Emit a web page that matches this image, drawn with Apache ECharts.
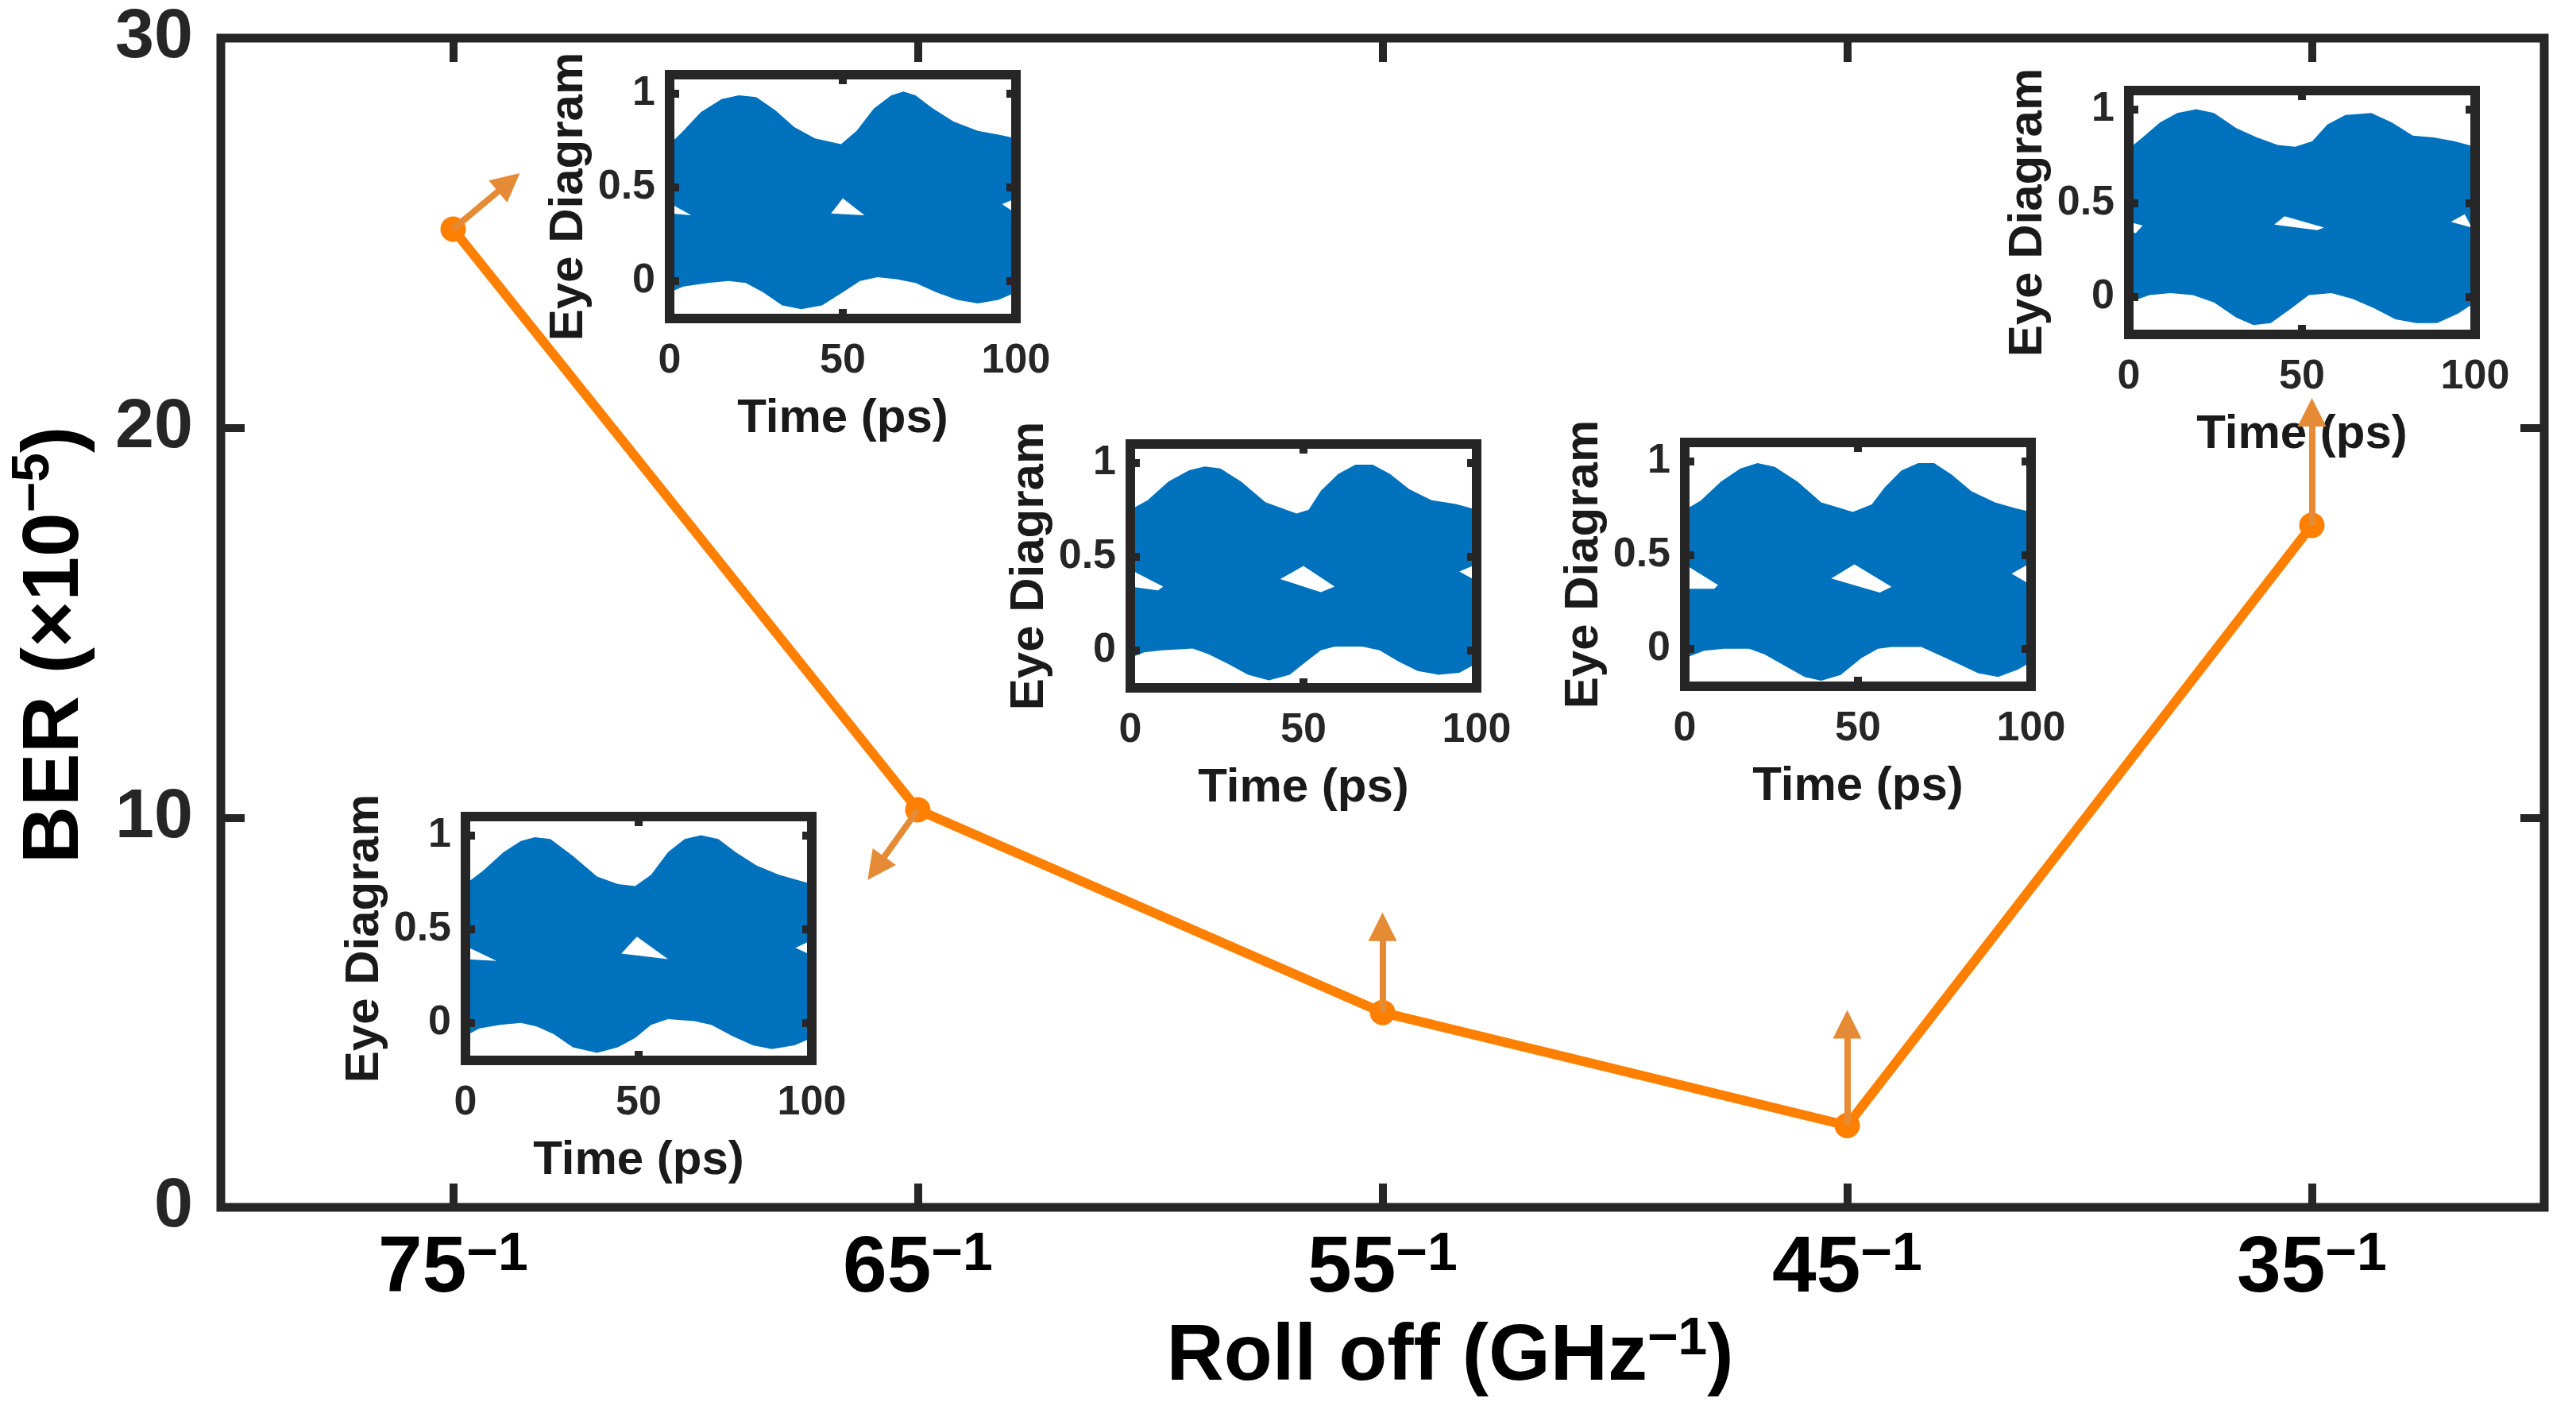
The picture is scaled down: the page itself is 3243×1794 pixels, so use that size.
<!DOCTYPE html>
<html>
<head>
<meta charset="utf-8">
<script src="https://cdn.jsdelivr.net/npm/echarts@6/dist/echarts.min.js"></script>
<style>
html, body { margin: 0; padding: 0; background: #fff; }
#chart { width: 3243px; height: 1794px; }
</style>
</head>
<body>
<div id="chart"></div>
<script>
// main curve: BER vs roll off
var rollOff = ['75', '65', '55', '45', '35'];
var ber = [25.1, 10.2, 5.0, 2.1, 17.5];

// arrow heads, [category index, BER], one per point
var arrowTips = [[0.12, 26.3], [0.91, 8.7], [2, 7.2], [3, 4.7], [4, 20.4]];

// eye diagram tick labels
var eyeTicksX = [0, 50, 100];
var eyeTicksY = [0, 0.5, 1];

// eye diagrams, [time (ps), amplitude]: upper / lower envelope and open eye holes
var eye75Upper = [[0,0.73],[3.4,0.79],[9,0.9],[15,0.97],[20,0.99],[25,0.98],[30.5,0.91],[36,0.82],[42,0.76],[49.5,0.73],[54,0.8],[59,0.92],[64,0.99],[67.5,1.01],[71,0.99],[76,0.92],[82,0.85],[89,0.8],[95,0.78],[100,0.76]];
var eye75Lower = [[0,-0.06],[4,-0.03],[11,-0.01],[17,0],[22,-0.01],[27,-0.06],[32.5,-0.13],[38,-0.15],[44,-0.13],[50,-0.06],[55,0],[60,0.02],[65.5,0.01],[71,-0.01],[77,-0.06],[83,-0.1],[89,-0.12],[95,-0.1],[100,-0.06]];
var eye75Holes = [[[46.6,0.36],[50,0.44],[56.3,0.35]], [[0.5,0.41],[6.3,0.35],[0.5,0.36]], [[96,0.41],[100,0.44],[100,0.36]]];

var eye65Upper = [[0,0.74],[5,0.81],[11,0.91],[16,0.97],[20,0.99],[24.5,0.98],[31,0.89],[38,0.78],[44,0.74],[49,0.73],[53.6,0.79],[58.5,0.91],[63.3,0.98],[68,1.0],[73,0.98],[78,0.91],[84,0.84],[90.5,0.79],[100,0.74]];
var eye65Lower = [[0,-0.07],[4,-0.03],[10,-0.01],[16,0],[20.7,-0.02],[25.5,-0.06],[31,-0.13],[38,-0.16],[44,-0.13],[49,-0.08],[53.6,-0.01],[58.5,0.02],[66,0.01],[71,-0.01],[77,-0.07],[83,-0.12],[88.5,-0.14],[95,-0.12],[100,-0.08]];
var eye65Holes = [[[45,0.37],[49.5,0.46],[58.5,0.34]], [[0,0.41],[9,0.33],[0,0.34]], [[95.3,0.4],[100,0.44],[100,0.36]]];

var eye55Upper = [[0,0.75],[5,0.8],[11,0.9],[17,0.96],[21.5,0.98],[26,0.97],[32,0.9],[39,0.79],[45,0.75],[48,0.73],[51.5,0.75],[55,0.85],[60,0.94],[65,0.99],[70,0.99],[75,0.94],[80.5,0.86],[87,0.8],[94,0.78],[100,0.75]];
var eye55Lower = [[0,-0.04],[4,-0.01],[9,0],[18,0.01],[22.5,-0.02],[28,-0.07],[34,-0.13],[40,-0.16],[46,-0.13],[51.5,-0.05],[55,0],[59,0.02],[67,0.02],[72,0],[77.5,-0.06],[83,-0.11],[89,-0.13],[95,-0.12],[100,-0.07]];
var eye55Holes = [[[43.3,0.38],[50,0.45],[59,0.34],[55,0.31]], [[0,0.43],[9.5,0.34],[8,0.32],[0,0.34]], [[95,0.42],[100,0.46],[100,0.37]]];

var eye45Upper = [[0,0.74],[4.6,0.79],[10.4,0.89],[16,0.96],[21,0.99],[26,0.97],[32.6,0.89],[39.4,0.78],[45,0.75],[48.5,0.73],[54,0.77],[57.7,0.86],[62.5,0.95],[67.4,0.99],[72,0.99],[77,0.93],[82.8,0.84],[89.6,0.78],[95.4,0.75],[100,0.73]];
var eye45Lower = [[0,-0.05],[5.6,-0.01],[11.4,0],[18.6,0],[23,-0.03],[28.8,-0.09],[34.6,-0.15],[39.4,-0.17],[45,-0.14],[51,-0.05],[55.8,0],[59.7,0.01],[68.3,0.01],[73,-0.03],[79,-0.08],[84.7,-0.13],[90.5,-0.15],[96.3,-0.11],[100,-0.07]];
var eye45Holes = [[[42.3,0.375],[49,0.45],[59.7,0.33],[56.3,0.3]], [[0,0.45],[9.6,0.34],[8.5,0.32],[0,0.32]], [[94.4,0.4],[100,0.46],[100,0.34]]];

var eye35Upper = [[0,0.79],[4,0.85],[9,0.93],[14,0.98],[19.5,1.0],[24.6,0.98],[31,0.9],[37,0.85],[43,0.81],[48,0.8],[53,0.83],[57.4,0.92],[62.6,0.97],[70,0.98],[76,0.93],[82,0.86],[88,0.85],[94,0.83],[100,0.8]];
var eye35Lower = [[0,-0.03],[6,0.01],[12,0.02],[18.5,0.01],[24.6,-0.03],[31,-0.11],[36,-0.15],[41,-0.14],[47,-0.06],[52,0.01],[58.5,0.02],[64.6,-0.01],[70.8,-0.06],[77,-0.12],[83,-0.14],[89,-0.14],[95,-0.09],[100,-0.03]];
var eye35Holes = [[[42,0.385],[45,0.43],[56.4,0.37],[54.4,0.356]], [[0,0.4],[4,0.38],[2,0.34],[0,0.35]], [[93,0.4],[97,0.44],[99,0.37]]];

var eyes = [
  { upper: eye75Upper, lower: eye75Lower, holes: eye75Holes },
  { upper: eye65Upper, lower: eye65Lower, holes: eye65Holes },
  { upper: eye55Upper, lower: eye55Lower, holes: eye55Holes },
  { upper: eye45Upper, lower: eye45Lower, holes: eye45Holes },
  { upper: eye35Upper, lower: eye35Lower, holes: eye35Holes }
];

// inset boxes (pixels), same order as eyes
var insetPos = [[843, 94], [586, 1028], [1423, 559], [2121, 557], [2680, 114]];
var insetW = 436, insetH = 307;

var FONT = '"Liberation Sans", Arial, Helvetica, sans-serif';
var DARK = '#262626';
var ORANGE = '#FF8000';
var ARROW = '#E58A35';
var BLUE = '#0072BD';

var chart = echarts.init(document.getElementById('chart'));

var grids = [{
  left: 278, right: 40, top: 48, bottom: 274,
  show: true, borderColor: DARK, borderWidth: 11, backgroundColor: 'rgba(0,0,0,0)'
}];

var mainTick = { show: true, inside: true, length: 30, lineStyle: { width: 10, color: DARK } };

var xAxes = [{
  type: 'category', gridIndex: 0, data: rollOff, position: 'bottom', boundaryGap: true,
  axisLine: { show: false, onZero: false },
  axisTick: Object.assign({ alignWithLabel: true }, mainTick),
  axisLabel: {
    margin: 26,
    formatter: function (v) { return '{n|' + v + '}{s|\u22121}'; },
    rich: {
      n: { fontFamily: FONT, fontWeight: 'bold', fontSize: 100, lineHeight: 104, color: '#000', verticalAlign: 'middle' },
      s: { fontFamily: FONT, fontWeight: 'bold', fontSize: 68, lineHeight: 68, color: '#000', verticalAlign: 'top' }
    }
  },
  splitLine: { show: false },
  name: '{n|Roll off (GHz}{s|\u22121}{n|)}',
  nameLocation: 'middle',
  nameGap: 134,
  nameTextStyle: {
    padding: [0, 0, 0, 170],
    rich: {
      n: { fontFamily: FONT, fontWeight: 'bold', fontSize: 100, lineHeight: 110, color: '#000', verticalAlign: 'middle' },
      s: { fontFamily: FONT, fontWeight: 'bold', fontSize: 66, lineHeight: 66, color: '#000', verticalAlign: 'top' }
    }
  }
}, {
  type: 'category', gridIndex: 0, data: rollOff, position: 'top', boundaryGap: true,
  axisLine: { show: false, onZero: false },
  axisTick: Object.assign({ alignWithLabel: true }, mainTick),
  axisLabel: { show: false },
  splitLine: { show: false }
}, {
  // hidden value axis over the categories, for the arrows
  type: 'value', gridIndex: 0, min: -0.5, max: 4.5, show: false,
  axisLine: { onZero: false }
}];

var yAxes = [{
  type: 'value', gridIndex: 0, min: 0, max: 30, interval: 10, position: 'left',
  axisLine: { show: false, onZero: false },
  axisTick: mainTick,
  axisLabel: { fontFamily: FONT, fontWeight: 'bold', fontSize: 88, color: DARK, margin: 35 },
  splitLine: { show: false },
  name: '{n|BER (\u00d710}{s|\u22125}{n|)}',
  nameLocation: 'middle',
  nameRotate: 90,
  nameGap: 148,
  nameTextStyle: {
    padding: [0, 56, 0, 0],
    rich: {
      n: { fontFamily: FONT, fontWeight: 'bold', fontSize: 100, lineHeight: 120, color: '#000', verticalAlign: 'middle' },
      s: { fontFamily: FONT, fontWeight: 'bold', fontSize: 66, lineHeight: 66, color: '#000', verticalAlign: 'top' }
    }
  }
}, {
  type: 'value', gridIndex: 0, min: 0, max: 30, interval: 10, position: 'right',
  axisLine: { show: false, onZero: false },
  axisTick: mainTick,
  axisLabel: { show: false },
  splitLine: { show: false }
}];

var series = [{
  type: 'line',
  xAxisIndex: 0, yAxisIndex: 0,
  data: ber,
  symbol: 'circle', symbolSize: 32,
  lineStyle: { color: ORANGE, width: 12 },
  itemStyle: { color: ORANGE },
  z: 3,
  silent: true
}, {
  type: 'lines',
  coordinateSystem: 'cartesian2d',
  xAxisIndex: 2, yAxisIndex: 0,
  data: arrowTips.map(function (tip, i) { return { coords: [[i, ber[i]], tip] }; }),
  symbol: ['none', 'triangle'],
  symbolSize: [1, 36],
  lineStyle: { color: ARROW, width: 8, opacity: 1, curveness: 0 },
  itemStyle: { color: ARROW },
  z: 20,
  silent: true
}];

var insetTick = { show: true, inside: true, length: 12, lineStyle: { width: 10, color: DARK } };
var insetLabel = { fontFamily: FONT, fontWeight: 'bold', fontSize: 52, color: DARK };
var insetName = { fontFamily: FONT, fontWeight: 'bold', fontSize: 60, color: '#1a1a1a' };

eyes.forEach(function (eye, k) {
  var g = k + 1;
  grids.push({
    left: insetPos[k][0], top: insetPos[k][1], width: insetW, height: insetH,
    show: true, borderColor: DARK, borderWidth: 12, backgroundColor: 'rgba(0,0,0,0)', z: 10
  });
  // bottom + top time axes
  xAxes.push({
    type: 'value', gridIndex: g, min: 0, max: 100, interval: 50, z: 10, position: 'bottom',
    axisLine: { show: false, onZero: false },
    axisTick: insetTick,
    axisLabel: Object.assign({ customValues: eyeTicksX, margin: 28 }, insetLabel),
    splitLine: { show: false },
    name: 'Time (ps)', nameLocation: 'middle', nameGap: 96,
    nameTextStyle: insetName
  }, {
    type: 'value', gridIndex: g, min: 0, max: 100, interval: 50, z: 10, position: 'top',
    axisLine: { show: false, onZero: false },
    axisTick: insetTick,
    axisLabel: { show: false },
    splitLine: { show: false }
  });
  // left + right amplitude axes
  yAxes.push({
    type: 'value', gridIndex: g, min: -0.2, max: 1.1, z: 10, position: 'left',
    axisLine: { show: false, onZero: false },
    axisTick: Object.assign({ customValues: eyeTicksY }, insetTick),
    axisLabel: Object.assign({ customValues: eyeTicksY, margin: 18 }, insetLabel),
    splitLine: { show: false },
    name: 'Eye Diagram', nameLocation: 'middle', nameRotate: 90, nameGap: 97,
    nameTextStyle: insetName
  }, {
    type: 'value', gridIndex: g, min: -0.2, max: 1.1, z: 10, position: 'right',
    axisLine: { show: false, onZero: false },
    axisTick: Object.assign({ customValues: eyeTicksY }, insetTick),
    axisLabel: { show: false },
    splitLine: { show: false }
  });
  series.push({
    type: 'custom',
    xAxisIndex: 3 + 2 * k, yAxisIndex: 2 + 2 * k,
    data: [[0, 0]],
    clip: true,
    silent: true,
    z: 2,
    renderItem: function (params, api) {
      var pts = eye.upper.map(function (p) { return api.coord(p); })
        .concat(eye.lower.slice().reverse().map(function (p) { return api.coord(p); }));
      var children = [{ type: 'polygon', shape: { points: pts }, style: { fill: BLUE } }];
      eye.holes.forEach(function (h) {
        children.push({
          type: 'polygon',
          shape: { points: h.map(function (p) { return api.coord(p); }) },
          style: { fill: '#fff' }
        });
      });
      return { type: 'group', children: children };
    }
  });
});

chart.setOption({
  backgroundColor: '#fff',
  animation: false,
  grid: grids,
  xAxis: xAxes,
  yAxis: yAxes,
  series: series
});
</script>
</body>
</html>
